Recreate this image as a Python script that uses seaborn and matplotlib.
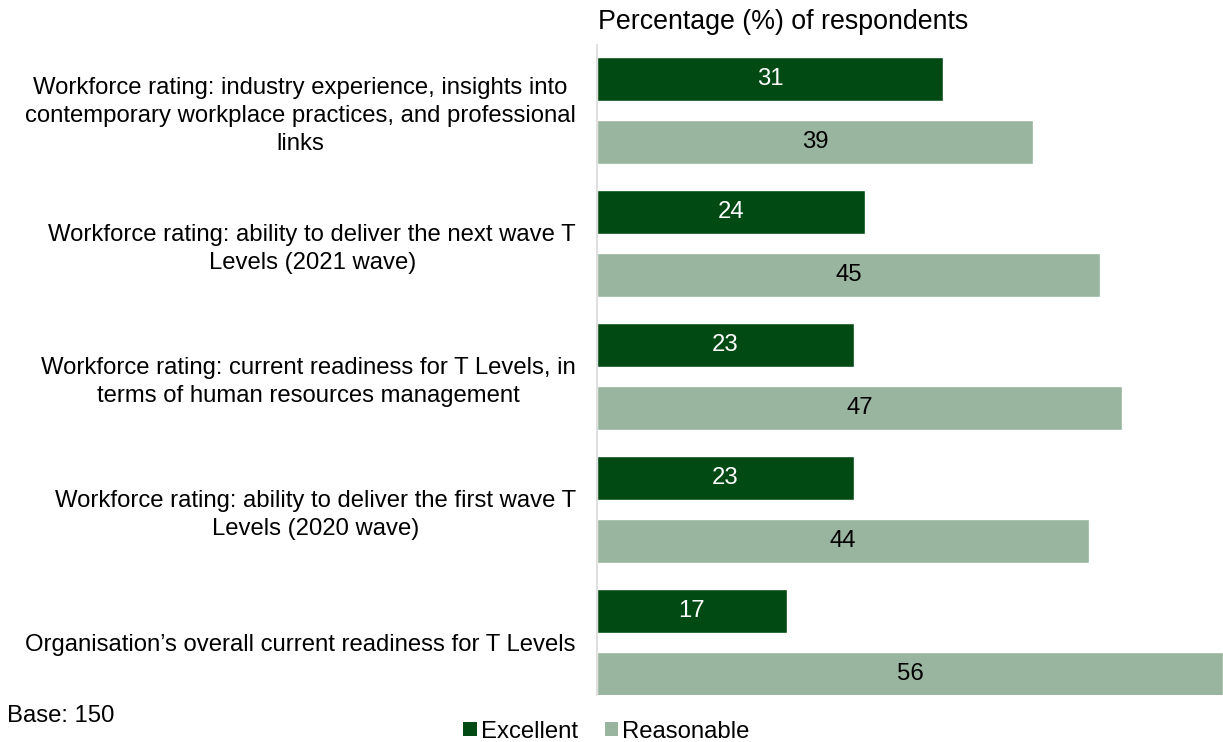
import matplotlib
matplotlib.use("Agg")
import matplotlib.pyplot as plt
import seaborn as sns
import pandas as pd
from matplotlib.patches import Patch

categories = [
    "Workforce rating: industry experience, insights into\ncontemporary workplace practices, and professional\nlinks",
    "Workforce rating: ability to deliver the next wave T\nLevels (2021 wave)",
    "Workforce rating: current readiness for T Levels, in\nterms of human resources management",
    "Workforce rating: ability to deliver the first wave T\nLevels (2020 wave)",
    "Organisation\u2019s overall current readiness for T Levels",
]
excellent = [31, 24, 23, 23, 17]
reasonable = [39, 45, 47, 44, 56]
series = ["Excellent", "Reasonable"]
colors = ["#024A14", "#9AB59F"]
label_colors = ["white", "black"]

df = pd.DataFrame({
    "category": categories * 2,
    "value": excellent + reasonable,
    "rating": [series[0]] * len(categories) + [series[1]] * len(categories),
})

sns.set_style("white")
plt.rcParams["font.family"] = ["Liberation Sans", "DejaVu Sans"]
plt.rcParams["text.color"] = "black"
plt.rcParams["ytick.color"] = "black"

FS = 17.2

fig = plt.figure(figsize=(12.23, 7.42), dpi=100)
ax = fig.add_axes([0.488, 0.063, 0.512, 0.876])

sns.barplot(data=df, x="value", y="category", hue="rating", orient="y",
            palette=colors, width=0.95, gap=0.3, ax=ax, legend=False,
            saturation=1)

for cont, lc in zip(ax.containers, label_colors):
    ax.bar_label(cont, label_type="center", color=lc, fontsize=FS)

ax.set_xlim(0, 56)
ax.set_ylim(4.395, -0.49)
ax.set_xlabel("")
ax.set_ylabel("")
ax.set_xticks([])
ax.tick_params(axis="y", length=0, pad=15, labelsize=FS, labelcolor="black")
for lbl in ax.get_yticklabels():
    lbl.set_horizontalalignment("right")
    lbl.set_multialignment("center")
    lbl.set_linespacing(1.37)
for side in ["top", "right", "bottom"]:
    ax.spines[side].set_visible(False)
ax.spines["left"].set_color("#D9D9D9")
ax.spines["left"].set_linewidth(1.2)

fig.text(0.489, 0.97, "Percentage (%) of respondents", fontsize=19.3,
         ha="left", va="center", color="black")
fig.text(0.006, 0.035, "Base: 150", fontsize=FS, ha="left", va="center",
         color="black")

handles = [Patch(facecolor=c, edgecolor="none") for c in colors]
fig.legend(handles, series, loc="center", bbox_to_anchor=(0.496, 0.014),
           ncol=2, frameon=False, fontsize=FS, handlelength=0.55,
           handleheight=0.55, handletextpad=0.2, columnspacing=1.1)

fig.savefig("out.png", dpi=100)
